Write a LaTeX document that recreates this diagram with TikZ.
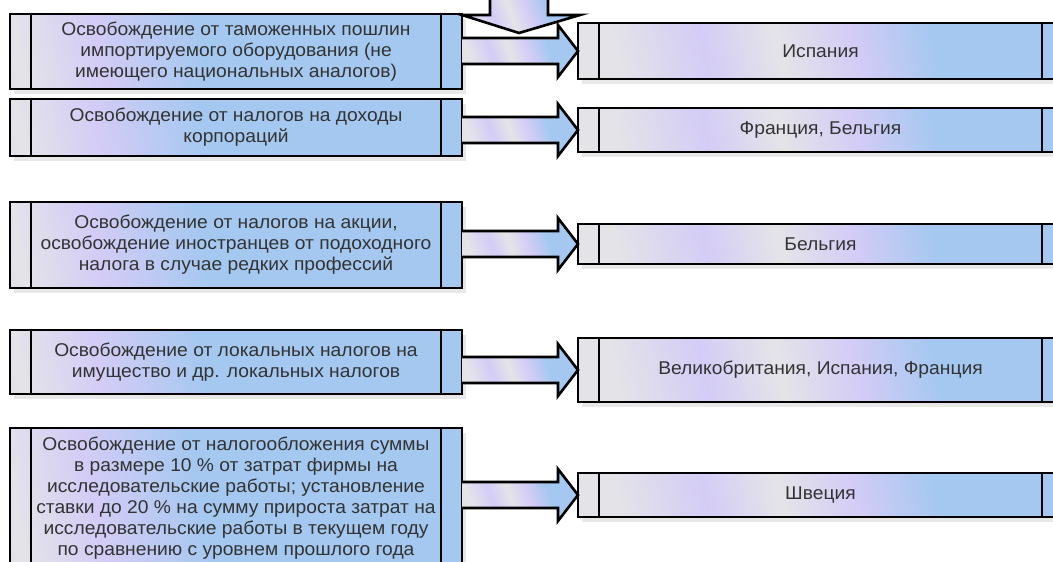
\documentclass[tikz,border=0pt]{standalone}
\usepackage{fontspec}
\setmainfont{Liberation Sans}[FakeStretch=1.04]
\usepackage{xcolor}
\usepackage{tikz}
\usetikzlibrary{calc,shadows}
\definecolor{pblue}{RGB}{164,200,240}
\definecolor{plav}{RGB}{212,204,246}
\definecolor{pgray}{RGB}{228,228,232}
\pgfdeclarehorizontalshading{swirl}{100bp}{color(0bp)=(pgray); color(25bp)=(pgray); color(36bp)=(plav); color(45bp)=(pgray); color(54bp)=(plav); color(64bp)=(pblue); color(100bp)=(pblue)}
\pgfdeclarehorizontalshading{lswirl}{100bp}{color(0bp)=(pgray); color(12bp)=(plav); color(22bp)=(pgray); color(32bp)=(plav); color(46bp)=(pblue); color(100bp)=(pblue)}

\begin{document}
\begin{tikzpicture}[x=1pt,y=-1pt,
  font=\fontsize{18.5}{21}\selectfont,
  proc/.style={draw=black,line width=2.6pt,shade,shading=swirl,shading angle=12,anchor=north west,inner sep=0pt,outer sep=0pt,align=center,text=black!80,
    drop shadow={shadow xshift=4pt,shadow yshift=-5pt,fill=black!9,opacity=1},
    path picture={\draw[line width=2.6pt]
      ([xshift=21pt]path picture bounding box.north west) -- ([xshift=21pt]path picture bounding box.south west)
      ([xshift=-21pt]path picture bounding box.north east) -- ([xshift=-21pt]path picture bounding box.south east);}},
  lhs/.style={proc,shading=lswirl,minimum width=452pt},
  rhs/.style={proc,minimum width=485pt},
  arr/.style={draw=black,line width=2.6pt,line join=miter,shade,shading=swirl,shading angle=20},
  barrow/.style={arr,to path={let \p1=(\tikztostart), \p2=(\tikztotarget) in
    (\x1,\y2+13pt) -- (\x2-20pt,\y2+13pt) -- (\x2-20pt,\y2+26pt) -- (\x2,\y2)
    -- (\x2-20pt,\y2-26pt) -- (\x2-20pt,\y2-13pt) -- (\x1,\y2-13pt)}}
]
\useasboundingbox (0,0) rectangle (1053,562);

% ---- left column : kinds of exemption
\node[lhs,minimum height=75pt] (L1) at (10,14) {Освобождение от таможенных пошлин\\импортируемого оборудования (не\\имеющего национальных аналогов)};
\node[lhs,minimum height=57pt] (L2) at (10,99) {Освобождение от налогов на доходы\\корпораций};
\node[lhs,minimum height=86pt] (L3) at (10,202) {Освобождение от налогов на акции,\\освобождение иностранцев от подоходного\\налога в случае редких профессий};
\node[lhs,minimum height=64pt] (L4) at (10,330) {Освобождение от локальных налогов на\\имущество и др. локальных налогов};
\node[lhs,minimum height=140pt] (L5) at (10,428) {Освобождение от налогообложения суммы\\в размере 10 \% от затрат фирмы на\\исследовательские работы; установление\\ставки до 20 \% на сумму прироста затрат на\\исследовательские работы в текущем году\\по сравнению с уровнем прошлого года};

% ---- right column : countries
\node[rhs,minimum height=56pt] (R1) at (578,23) {Испания};
\node[rhs,minimum height=44pt] (R2) at (578,108) {Франция, Бельгия};
\node[rhs,minimum height=40pt] (R3) at (578,224) {Бельгия};
\node[rhs,minimum height=64pt] (R4) at (578,338) {Великобритания, Испания, Франция};
\node[rhs,minimum height=44pt] (R5) at (578,473) {Швеция};

% ---- block arrows
\draw[barrow] (L1.east |- R1.west) to (R1.west);
\draw[barrow] (L2.east |- R2.west) to (R2.west);
\draw[barrow] (L3.east |- R3.west) to (R3.west);
\draw[barrow] (L4.east |- R4.west) to (R4.west);
\draw[barrow] (L5.east |- R5.west) to (R5.west);

% ---- arrow coming down from above
\coordinate (top) at (519,-5);
\coordinate (tip) at (519,33);
\draw[arr] (top) ++(-29,0) -- ++(0,20) -- ++(-28,0) -- (tip) -- ++(61,-18) -- ++(-32,0) -- ++(0,-20);
\end{tikzpicture}
\end{document}
